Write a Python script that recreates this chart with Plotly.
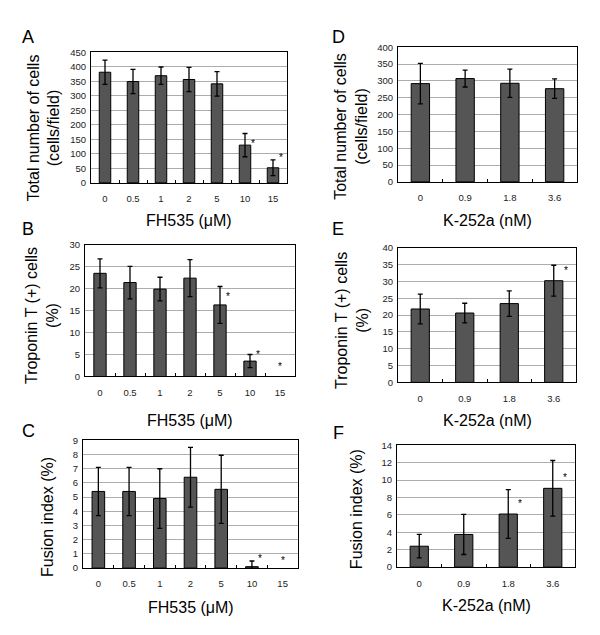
import plotly.graph_objects as go

# ---- data ----
fh_doses = ["0", "0.5", "1", "2", "5", "10", "15"]
k_doses = ["0", "0.9", "1.8", "3.6"]

a_mean = [381, 349, 369, 356, 341, 130, 52]
a_sd = [42, 42, 30, 42, 42, 40, 27]
a_sig_idx = [5, 6]
a_sig_y = [147, 96]

b_mean = [23.5, 21.4, 19.9, 22.4, 16.3, 3.5, 0]
b_sd = [3.3, 3.7, 2.7, 4.2, 4.2, 1.5, 0]
b_sig_idx = [4, 5, 6]
b_sig_y = [18.9, 5.6, 3.0]

c_mean = [5.4, 5.4, 4.9, 6.4, 5.55, 0.1, 0]
c_sd = [1.7, 1.7, 2.1, 2.1, 2.4, 0.4, 0]
c_sig_idx = [5, 6]
c_sig_y = [0.9, 0.74]

d_mean = [292, 307, 293, 277]
d_sd = [60, 25, 42, 29]

e_mean = [21.8, 20.6, 23.4, 30.2]
e_sd = [4.4, 2.9, 3.8, 4.6]
e_sig_idx = [3]
e_sig_y = [34.1]

f_mean = [2.4, 3.75, 6.1, 9.05]
f_sd = [1.35, 2.3, 2.8, 3.2]
f_sig_idx = [2, 3]
f_sig_y = [7.6, 10.6]

W, H = 600, 635
FONT = "Liberation Sans, Arial, sans-serif"

panels = [
    dict(letter="A", cats=fh_doses, mean=a_mean, sd=a_sd, sig_idx=a_sig_idx, sig_y=a_sig_y,
         ymax=450, dtick=50, ytitle="Total number of cells<br>(cells/field)", xtitle="FH535 (μM)",
         box=(91, 287, 47, 180), lpos=(28, 32), ytpos=(43.5, 124), xty=218),
    dict(letter="B", cats=fh_doses, mean=b_mean, sd=b_sd, sig_idx=b_sig_idx, sig_y=b_sig_y,
         ymax=30, dtick=5, ytitle="Troponin T (+) cells<br>(%)", xtitle="FH535 (μM)",
         box=(85, 295, 243, 377), lpos=(28, 227), ytpos=(41.5, 315), xty=422),
    dict(letter="C", cats=fh_doses, mean=c_mean, sd=c_sd, sig_idx=c_sig_idx, sig_y=c_sig_y,
         ymax=9, dtick=1, ytitle="Fusion index (%)", xtitle="FH535 (μM)",
         box=(83, 298, 442, 572), lpos=(28, 433), ytpos=(48, 520), xty=612),
    dict(letter="D", cats=k_doses, mean=d_mean, sd=d_sd, sig_idx=[], sig_y=[],
         ymax=400, dtick=50, ytitle="Total number of cells<br>(cells/field)", xtitle="K-252a (nM)",
         box=(398, 577, 42, 179), lpos=(338, 32), ytpos=(351, 123), xty=218),
    dict(letter="E", cats=k_doses, mean=e_mean, sd=e_sd, sig_idx=e_sig_idx, sig_y=e_sig_y,
         ymax=40, dtick=5, ytitle="Troponin T (+) cells<br>(%)", xtitle="K-252a (nM)",
         box=(398, 576, 246, 383), lpos=(338, 227), ytpos=(352.5, 320), xty=422),
    dict(letter="F", cats=k_doses, mean=f_mean, sd=f_sd, sig_idx=f_sig_idx, sig_y=f_sig_y,
         ymax=14, dtick=2, ytitle="Fusion index (%)", xtitle="K-252a (nM)",
         box=(397, 575, 447, 571), lpos=(338, 435), ytpos=(356, 512), xty=610),
]

fig = go.Figure()
annotations = []
layout = {}

for i, p in enumerate(panels, start=1):
    xa = "x" if i == 1 else f"x{i}"
    ya = "y" if i == 1 else f"y{i}"
    l, r, t, b = p["box"]
    yvals = [m if m > 0 else None for m in p["mean"]]
    errs = [s if s > 0 else None for s in p["sd"]]
    fig.add_trace(go.Bar(
        x=p["cats"], y=yvals, xaxis=xa, yaxis=ya,
        marker=dict(color="#555555", line=dict(color="black", width=1)),
        error_y=dict(type="data", array=errs, visible=True, color="black",
                     thickness=1.3, width=2.5),
        showlegend=False, hoverinfo="skip",
    ))
    layout["xaxis" if i == 1 else f"xaxis{i}"] = dict(
        domain=[l / W, r / W], anchor=ya, type="category",
        categoryorder="array", categoryarray=p["cats"],
        showline=True, mirror=True, linecolor="black", linewidth=1,
        ticks="inside", tickson="boundaries", ticklen=3, tickcolor="black",
        showgrid=False, tickfont=dict(size=9.5, color="#222"),
        ticklabelstandoff=7, fixedrange=True,
    )
    layout["yaxis" if i == 1 else f"yaxis{i}"] = dict(
        domain=[1 - b / H, 1 - t / H], anchor=xa, range=[0, p["ymax"]],
        dtick=p["dtick"], tick0=0,
        showline=True, mirror=True, linecolor="black", linewidth=1,
        showgrid=True, gridcolor="#adadad", gridwidth=1, zeroline=False,
        ticks="", tickfont=dict(size=9.5, color="#222"), ticklabelstandoff=2,
        fixedrange=True,
    )
    for idx, sy in zip(p["sig_idx"], p["sig_y"]):
        off = 0.27 if p["mean"][idx] > 0 else 0.0
        annotations.append(dict(
            x=idx + off, y=sy, xref=xa, yref=ya, text="*", showarrow=False,
            font=dict(size=10, color="#000000"), xanchor="center", yanchor="middle", yshift=-3,
        ))
    annotations.append(dict(
        x=p["lpos"][0] / W, y=1 - p["lpos"][1] / H, xref="paper", yref="paper",
        text=p["letter"], showarrow=False, font=dict(size=18, color="black"),
        xanchor="center", yanchor="middle",
    ))
    annotations.append(dict(
        x=p["ytpos"][0] / W, y=1 - p["ytpos"][1] / H, xref="paper", yref="paper",
        text=p["ytitle"], textangle=-90, showarrow=False,
        font=dict(size=16, color="black"), xanchor="center", yanchor="middle",
    ))
    annotations.append(dict(
        x=(l + r) / 2 / W, y=1 - p["xty"] / H, xref="paper", yref="paper",
        text=p["xtitle"], showarrow=False,
        font=dict(size=16, color="black"), xanchor="center", yanchor="middle",
    ))

fig.update_layout(
    width=W, height=H, margin=dict(l=0, r=0, t=0, b=0),
    paper_bgcolor="white", plot_bgcolor="white",
    font=dict(family=FONT, color="black"),
    bargap=0.59, annotations=annotations, **layout,
)

fig.write_html("out.html", config={"displayModeBar": False},
               post_script="document.body.style.margin='0';document.body.style.overflow='hidden';")
